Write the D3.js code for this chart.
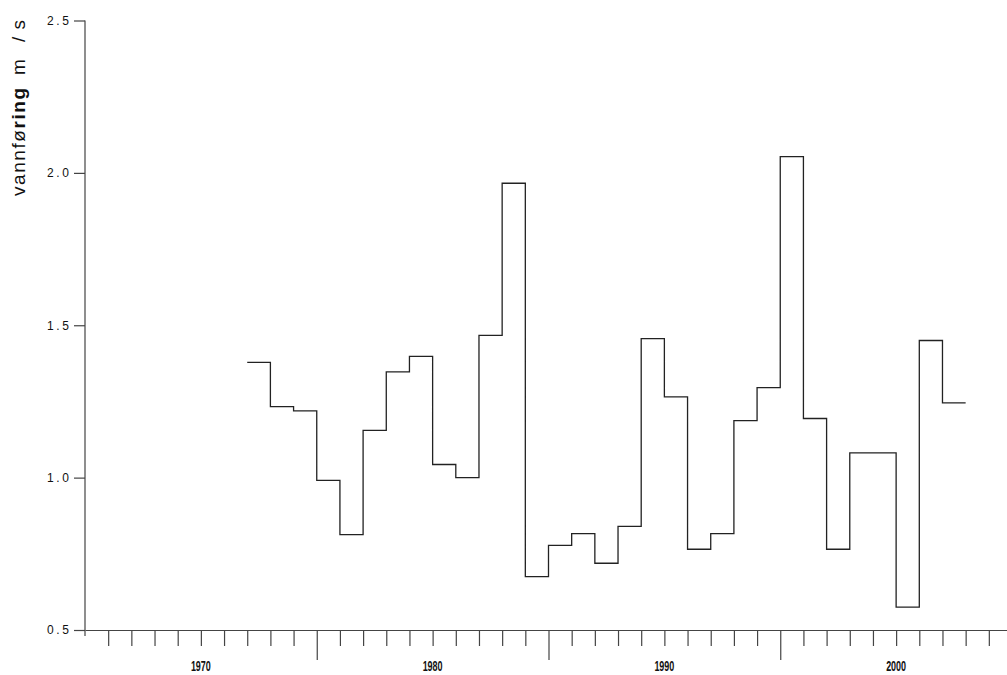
<!DOCTYPE html>
<html>
<head>
<meta charset="utf-8">
<title>vannføring</title>
<style>
body { margin: 0; background: #fff; }
path.flow { fill: none; stroke: #222; stroke-width: 1.3px; }
.axis path, .axis line { stroke: #444; stroke-width: 1.2px; }
text { fill: #111; font-family: "Liberation Sans", Arial, sans-serif; }
</style>
</head>
<body>
<script src="https://cdn.jsdelivr.net/npm/d3@7"></script>
<script>

// yearly mean discharge, one step per year
var years = [1972, 1973, 1974, 1975, 1976, 1977, 1978, 1979, 1980, 1981,
             1982, 1983, 1984, 1985, 1986, 1987, 1988, 1989, 1990, 1991,
             1992, 1993, 1994, 1995, 1996, 1997, 1998, 1999, 2000, 2001, 2002];
var flow = [1.378, 1.233, 1.219, 0.991, 0.813, 1.155, 1.347, 1.398, 1.043, 1.000,
            1.467, 1.966, 0.675, 0.778, 0.816, 0.719, 0.840, 1.456, 1.265, 0.765,
            0.816, 1.187, 1.295, 2.053, 1.194, 0.765, 1.081, 1.081, 0.575, 1.450, 1.245];

var yTicks = [0.5, 1.0, 1.5, 2.0, 2.5];
var yearTicks = [1966, 1967, 1968, 1969, 1970, 1971, 1972, 1973, 1974, 1975,
                 1976, 1977, 1978, 1979, 1980, 1981, 1982, 1983, 1984, 1985,
                 1986, 1987, 1988, 1989, 1990, 1991, 1992, 1993, 1994, 1995,
                 1996, 1997, 1998, 1999, 2000, 2001, 2002, 2003, 2004];
var longTicks = [1975, 1985, 1995];
var yearLabels = [1970, 1980, 1990, 2000];

var width = 1007,
    height = 675;

var svg = d3.select("body").append("svg")
    .attr("width", width)
    .attr("height", height);

var x = d3.scaleLinear().domain([1965, 2005]).range([85, 1012]);
var y = d3.scaleLinear().domain([0.5, 2.5]).range([630, 20.5]);

// x axis
var xAxis = svg.append("g")
    .attr("class", "axis")
    .attr("transform", "translate(0," + y(0.5) + ")")
    .call(d3.axisBottom(x)
        .tickValues(yearTicks)
        .tickSize(16)
        .tickSizeOuter(0)
        .tickFormat(""));

xAxis.selectAll(".tick line")
    .attr("y2", function(d) { return longTicks.indexOf(d) >= 0 ? 30 : 16; });

svg.append("g").selectAll("text")
    .data(yearLabels)
    .enter().append("text")
    .attr("x", function(d) { return x(d) - 10; })
    .attr("y", 671)
    .attr("font-size", 14)
    .attr("font-weight", "bold")
    .attr("fill", "#222")
    .attr("textLength", 20)
    .attr("lengthAdjust", "spacingAndGlyphs")
    .text(function(d) { return d; });

// y axis
var yAxis = svg.append("g")
    .attr("class", "axis")
    .attr("transform", "translate(85,0)")
    .call(d3.axisLeft(y)
        .tickValues(yTicks)
        .tickSize(11)
        .tickSizeOuter(0)
        .tickPadding(5)
        .tickFormat(d3.format(".1f")));

yAxis.select(".domain").remove();
yAxis.append("line")
    .attr("x1", 0).attr("x2", 0)
    .attr("y1", y(2.5)).attr("y2", y(0.5) + 6);

yAxis.selectAll(".tick text")
    .attr("font-size", 12)
    .attr("fill", "#111")
    .attr("font-family", "'Liberation Sans', Arial, sans-serif")
    .attr("textLength", 22)
    .attr("lengthAdjust", "spacing");

// y label (superscript missing in original, leaves a gap)
var label = svg.append("g")
    .attr("transform", "translate(25,196) rotate(-90)")
    .attr("font-size", 19)
    .attr("fill", "#333");

var lt = label.append("text")
    .attr("x", 0)
    .attr("fill", "#333")
    .attr("textLength", 108)
    .attr("lengthAdjust", "spacing");
lt.append("tspan").attr("font-weight", "normal").text("vannfø");
lt.append("tspan").attr("font-weight", "bold").text("ring");

label.append("text")
    .attr("x", 121)
    .attr("fill", "#333")
    .text("m");

label.append("text")
    .attr("x", 154)
    .attr("fill", "#333")
    .attr("textLength", 22)
    .attr("lengthAdjust", "spacing")
    .text("/s");

// step line, last year closed off one year later
var pts = years.map(function(d, i) { return [d, flow[i]]; });
pts.push([years[years.length - 1] + 1, flow[flow.length - 1]]);

var line = d3.line()
    .curve(d3.curveStepAfter)
    .x(function(d) { return x(d[0]); })
    .y(function(d) { return y(d[1]); });

svg.append("path")
    .datum(pts)
    .attr("class", "flow")
    .attr("d", line);

</script>
</body>
</html>
